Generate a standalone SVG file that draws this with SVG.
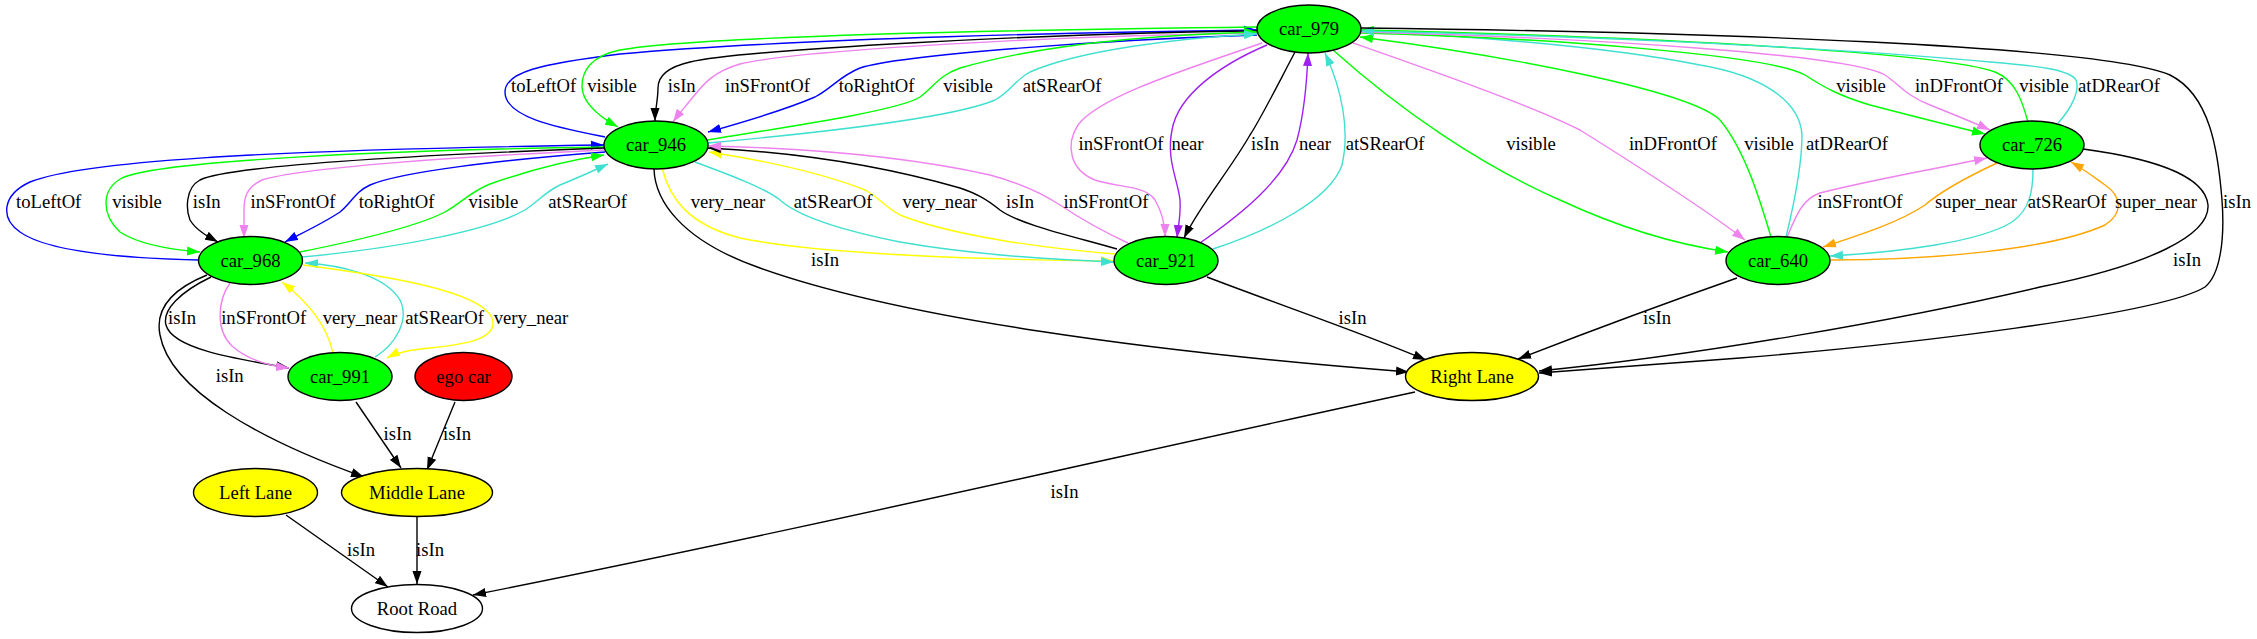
<svg xmlns="http://www.w3.org/2000/svg" width="2257" height="639" viewBox="0 0 2257 639">
<style>
.e{fill:none;stroke-width:1.4}
.k{stroke:#000;marker-end:url(#mk)}
.g{stroke:#00ff00;marker-end:url(#mg)}
.b{stroke:#0000ff;marker-end:url(#mb)}
.v{stroke:#ee82ee;marker-end:url(#mv)}
.t{stroke:#40e0d0;marker-end:url(#mt)}
.y{stroke:#ffff00;marker-end:url(#my)}
.p{stroke:#a020f0;marker-end:url(#mp)}
.o{stroke:#ffa500;marker-end:url(#mo)}
ellipse{stroke:#000;stroke-width:1.4}
text{font-family:"Liberation Serif","Times New Roman",serif;font-size:18.67px;text-anchor:middle;fill:#000}
</style>
<defs>
<marker id="mk" viewBox="0 0 10 7" refX="10" refY="3.5" markerWidth="13" markerHeight="9.4" markerUnits="userSpaceOnUse" orient="auto"><path d="M0,0L10,3.5L0,7z" fill="#000"/></marker>
<marker id="mg" viewBox="0 0 10 7" refX="10" refY="3.5" markerWidth="13" markerHeight="9.4" markerUnits="userSpaceOnUse" orient="auto"><path d="M0,0L10,3.5L0,7z" fill="#00ff00"/></marker>
<marker id="mb" viewBox="0 0 10 7" refX="10" refY="3.5" markerWidth="13" markerHeight="9.4" markerUnits="userSpaceOnUse" orient="auto"><path d="M0,0L10,3.5L0,7z" fill="#0000ff"/></marker>
<marker id="mv" viewBox="0 0 10 7" refX="10" refY="3.5" markerWidth="13" markerHeight="9.4" markerUnits="userSpaceOnUse" orient="auto"><path d="M0,0L10,3.5L0,7z" fill="#ee82ee"/></marker>
<marker id="mt" viewBox="0 0 10 7" refX="10" refY="3.5" markerWidth="13" markerHeight="9.4" markerUnits="userSpaceOnUse" orient="auto"><path d="M0,0L10,3.5L0,7z" fill="#40e0d0"/></marker>
<marker id="my" viewBox="0 0 10 7" refX="10" refY="3.5" markerWidth="13" markerHeight="9.4" markerUnits="userSpaceOnUse" orient="auto"><path d="M0,0L10,3.5L0,7z" fill="#ffff00"/></marker>
<marker id="mp" viewBox="0 0 10 7" refX="10" refY="3.5" markerWidth="13" markerHeight="9.4" markerUnits="userSpaceOnUse" orient="auto"><path d="M0,0L10,3.5L0,7z" fill="#a020f0"/></marker>
<marker id="mo" viewBox="0 0 10 7" refX="10" refY="3.5" markerWidth="13" markerHeight="9.4" markerUnits="userSpaceOnUse" orient="auto"><path d="M0,0L10,3.5L0,7z" fill="#ffa500"/></marker>
</defs>
<rect x="0" y="0" width="2257" height="639" fill="#fff"/>
<g id="edges">
<!-- car_946 <-> car_979 -->
<path class="e b" d="M605,137 C560,128 505,118 505,92 C505,72 540,64 620,54 C800,38 1100,32 1257,30"/>
<path class="e g" d="M1257,27 C1000,30 700,36 620,50 C590,56 582,72 582,86 C582,102 598,116 618,127"/>
<path class="e k" d="M1257,31 C1050,33 740,50 690,62 C664,68 658,78 658,88 C658,100 655,110 655,121"/>
<path class="e v" d="M1257,33 C1050,36 800,50 740,64 C712,72 702,86 693,97 C685,107 678,115 673,122"/>
<path class="e b" d="M1257,35 C1100,40 900,55 860,68 C840,76 832,88 815,97 C780,112 740,123 708,132"/>
<path class="e g" d="M707,140 C800,125 900,110 920,97 C935,86 938,76 960,68 C1040,45 1150,35 1257,32"/>
<path class="e t" d="M708,143 C850,130 960,115 995,100 C1010,92 1015,80 1030,72 C1080,50 1180,38 1257,34"/>
<text x="543.6" y="92">toLeftOf</text><text x="612" y="92">visible</text><text x="681.7" y="92">isIn</text><text x="767.5" y="92">inSFrontOf</text><text x="876.7" y="92">toRightOf</text><text x="968" y="92">visible</text><text x="1062" y="92">atSRearOf</text>
<!-- car_946 <-> car_968 -->
<path class="e b" d="M199,260 C110,258 45,250 20,232 C0,218 2,195 30,182 C80,162 250,150 604,145"/>
<path class="e g" d="M604,147 C400,150 160,160 122,178 C100,190 102,215 120,232 C140,245 175,250 200,252"/>
<path class="e k" d="M604,148 C420,155 230,165 200,180 C185,188 186,210 190,220 C196,230 207,236 218,242"/>
<path class="e v" d="M604,150 C450,157 300,168 262,180 C245,188 244,200 244,210 C244,220 244,230 244,238"/>
<path class="e b" d="M605,152 C500,160 400,172 370,185 C355,192 352,202 340,212 C322,224 300,234 285,242"/>
<path class="e g" d="M300,252 C360,240 420,225 445,212 C460,204 470,192 490,184 C530,170 570,160 604,155"/>
<path class="e t" d="M302,257 C400,248 490,230 525,210 C540,200 545,192 560,185 C580,177 595,170 608,164"/>
<text x="48.7" y="208">toLeftOf</text><text x="137" y="208">visible</text><text x="206.7" y="208">isIn</text><text x="293" y="208">inSFrontOf</text><text x="396.7" y="208">toRightOf</text><text x="493.3" y="208">visible</text><text x="587.7" y="208">atSRearOf</text>
<!-- car_946 <-> car_921 -->
<path class="e y" d="M662,168 C670,200 690,225 740,238 C820,255 1000,260 1114,261"/>
<path class="e t" d="M695,162 C730,175 765,188 780,200 C800,218 850,232 900,242 C980,256 1060,260 1114,262"/>
<path class="e y" d="M1115,254 C1040,248 950,235 900,215 C885,207 880,198 865,190 C820,172 760,160 709,152"/>
<path class="e k" d="M1117,249 C1080,238 1020,225 1000,210 C985,198 975,193 960,188 C880,165 790,152 708,148"/>
<path class="e v" d="M1128,243 C1100,230 1075,215 1060,205 C1045,195 1020,183 990,175 C900,155 800,148 708,146"/>
<text x="728" y="208">very_near</text><text x="833" y="208">atSRearOf</text><text x="939.7" y="208">very_near</text><text x="1020" y="208">isIn</text><text x="1106" y="208">inSFrontOf</text>
<!-- car_979 <-> car_921 -->
<path class="e v" d="M1262,43 C1200,65 1100,95 1078,125 C1065,145 1070,170 1095,180 C1120,188 1145,185 1155,200 C1162,212 1165,225 1165,237"/>
<path class="e p" d="M1267,45 C1220,65 1178,95 1172,130 C1166,160 1178,180 1180,200 C1181,215 1178,228 1177,238"/>
<path class="e k" d="M1295,52 C1275,90 1260,120 1250,135 C1230,170 1200,205 1184,238"/>
<path class="e p" d="M1200,243 C1240,215 1285,180 1297,140 C1305,110 1307,80 1308,53"/>
<path class="e t" d="M1213,249 C1270,230 1330,200 1342,165 C1350,130 1342,90 1325,53"/>
<text x="1121" y="150">inSFrontOf</text><text x="1187.5" y="150">near</text><text x="1265" y="150">isIn</text><text x="1315" y="150">near</text><text x="1385" y="150">atSRearOf</text>
<!-- car_979 <-> car_640 -->
<path class="e g" d="M1333,50 C1400,110 1480,165 1560,200 C1620,228 1680,245 1728,252"/>
<path class="e v" d="M1353,43 C1430,70 1530,105 1580,130 C1620,155 1700,205 1745,240"/>
<path class="e g" d="M1771,237 C1760,200 1745,150 1720,120 C1690,90 1500,55 1360,37"/>
<path class="e t" d="M1786,237 C1795,200 1802,160 1802,135 C1800,100 1760,75 1700,65 C1600,45 1450,35 1361,31"/>
<text x="1531" y="150">visible</text><text x="1673" y="150">inDFrontOf</text><text x="1769" y="150">visible</text><text x="1847" y="150">atDRearOf</text>
<!-- car_979 <-> car_726 -->
<path class="e g" d="M1361,33 C1550,38 1770,55 1805,75 C1825,88 1840,96 1870,105 C1920,118 1960,128 1985,134"/>
<path class="e v" d="M1361,32 C1600,38 1850,55 1885,75 C1900,85 1905,95 1930,105 C1955,115 1975,123 1990,130"/>
<path class="e g" d="M2028,122 C2022,100 2015,80 1995,72 C1950,55 1700,38 1361,30"/>
<path class="e t" d="M2058,123 C2072,108 2080,90 2076,80 C2070,70 2040,66 1990,62 C1800,45 1550,35 1361,31"/>
<text x="1861" y="92">visible</text><text x="1959" y="92">inDFrontOf</text><text x="2044" y="92">visible</text><text x="2119" y="92">atDRearOf</text>
<!-- car_640 <-> car_726 -->
<path class="e v" d="M1787,237 C1795,220 1800,200 1820,193 C1870,180 1940,168 1987,158"/>
<path class="e o" d="M1997,163 C1965,178 1940,192 1925,205 C1900,222 1860,235 1823,247"/>
<path class="e t" d="M2033,169 C2033,190 2030,210 2012,222 C1980,242 1900,252 1830,256"/>
<path class="e o" d="M1831,260 C1930,260 2050,250 2105,225 C2125,212 2120,195 2105,185 C2095,178 2085,170 2071,162"/>
<text x="1860" y="208">inSFrontOf</text><text x="1976" y="208">super_near</text><text x="2067" y="208">atSRearOf</text><text x="2156" y="208">super_near</text>
<!-- to Right Lane -->
<path class="e k" d="M1361,28 C1700,32 2100,45 2170,75 C2210,95 2218,150 2222,200 C2225,240 2220,275 2205,287 C2160,315 1900,345 1740,358 C1650,365 1580,370 1539,373"/>
<text x="2237" y="208">isIn</text>
<path class="e k" d="M2083,149 C2150,158 2205,175 2208,205 C2210,235 2150,265 2040,287 C1900,320 1700,355 1539,371"/>
<text x="2187" y="266">isIn</text>
<path class="e k" d="M1737,278 C1660,305 1580,335 1518,359"/>
<text x="1657" y="324">isIn</text>
<path class="e k" d="M1207,277 C1280,305 1360,332 1426,360"/>
<text x="1352.5" y="324">isIn</text>
<path class="e k" d="M654,169 C655,200 680,240 760,268 C900,318 1150,352 1409,372"/>
<text x="825" y="266">isIn</text>
<path class="e k" d="M1415,392 C1100,460 800,530 473,595"/>
<text x="1064.5" y="498">isIn</text>
<!-- car_968 <-> car_991 -->
<path class="e k" d="M211,277 C180,292 162,310 166,325 C172,348 230,358 289,368"/>
<path class="e v" d="M230,283 C218,300 215,330 232,346 C248,360 270,366 289,368"/>
<path class="e y" d="M333,353 C328,330 312,305 282,282"/>
<path class="e t" d="M375,357 C395,345 410,320 400,300 C385,275 340,265 305,263"/>
<path class="e y" d="M303,265 C380,275 480,290 492,318 C500,340 460,345 430,348 C410,350 398,352 387,358"/>
<text x="182" y="324">isIn</text><text x="263.7" y="324">inSFrontOf</text><text x="360" y="324">very_near</text><text x="444.5" y="324">atSRearOf</text><text x="531" y="324">very_near</text>
<!-- to Middle Lane / Root Road -->
<path class="e k" d="M207,275 C170,290 155,310 160,335 C170,390 260,440 364,477"/>
<text x="229.7" y="382">isIn</text>
<path class="e k" d="M356,402 L401,468"/>
<text x="397.5" y="440">isIn</text>
<path class="e k" d="M455,402 L427,470"/>
<text x="457" y="440">isIn</text>
<path class="e k" d="M286,515 L388,587"/>
<text x="361" y="556">isIn</text>
<path class="e k" d="M417,517 L417,584"/>
<text x="430" y="556">isIn</text>
</g>
<g id="car_979"><ellipse cx="1309" cy="29" rx="52" ry="24" fill="#00ff00"/><text x="1309" y="35">car_979</text></g>
<g id="car_946"><ellipse cx="656" cy="145" rx="52" ry="24" fill="#00ff00"/><text x="656" y="151">car_946</text></g>
<g id="car_968"><ellipse cx="250.5" cy="260.5" rx="52" ry="24" fill="#00ff00"/><text x="250.5" y="266.5">car_968</text></g>
<g id="car_921"><ellipse cx="1166" cy="260.5" rx="52" ry="24" fill="#00ff00"/><text x="1166" y="266.5">car_921</text></g>
<g id="car_640"><ellipse cx="1778" cy="260.5" rx="52" ry="24" fill="#00ff00"/><text x="1778" y="266.5">car_640</text></g>
<g id="car_726"><ellipse cx="2032" cy="145" rx="52" ry="24" fill="#00ff00"/><text x="2032" y="151">car_726</text></g>
<g id="car_991"><ellipse cx="340" cy="376.5" rx="52" ry="24" fill="#00ff00"/><text x="340" y="382.5">car_991</text></g>
<g id="ego_car"><ellipse cx="463.5" cy="376.5" rx="48.5" ry="24" fill="#ff0000"/><text x="463.5" y="382.5">ego car</text></g>
<g id="right_lane"><ellipse cx="1472" cy="376.5" rx="66.5" ry="24" fill="#ffff00"/><text x="1472" y="382.5">Right Lane</text></g>
<g id="left_lane"><ellipse cx="255.5" cy="492.5" rx="62" ry="24" fill="#ffff00"/><text x="255.5" y="498.5">Left Lane</text></g>
<g id="middle_lane"><ellipse cx="417" cy="492.5" rx="75.5" ry="24" fill="#ffff00"/><text x="417" y="498.5">Middle Lane</text></g>
<g id="root_road"><ellipse cx="417" cy="608.5" rx="65.5" ry="24" fill="#ffffff"/><text x="417" y="614.5">Root Road</text></g>
</svg>
